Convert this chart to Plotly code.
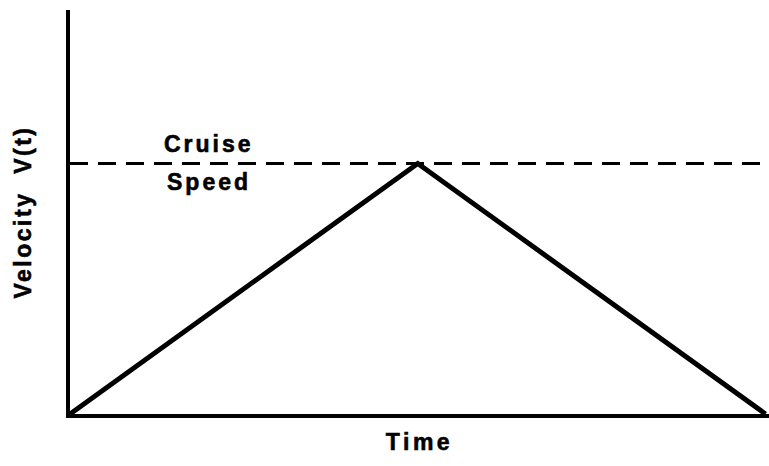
import plotly.graph_objects as go

# Data
time_pts = [0, 5, 10]
velocity = [0, 0.62, 0]
cruise_x = [0, 10.05]
cruise_v = [0.62, 0.62]
x_title = "Time"
y_title = "Velocity  V(t)"
cruise_label_top = "Cruise"
cruise_label_bottom = "Speed"

FONT = "Liberation Sans, Arial, sans-serif"

def spaced(s, px):
    return (f'<span style="letter-spacing:{px}px;stroke:black;stroke-width:0.6px">'
            f'<b>{s}</b></span>')

fig = go.Figure()
fig.add_trace(go.Scatter(x=cruise_x, y=cruise_v, mode="lines",
                         line=dict(color="black", width=3, dash="18px,10px"),
                         showlegend=False, hoverinfo="skip"))
fig.add_trace(go.Scatter(x=time_pts, y=velocity, mode="lines",
                         line=dict(color="black", width=5),
                         showlegend=False, hoverinfo="skip"))

fig.add_annotation(x=2.0, y=cruise_v[0], xref="x", yref="y",
                   text=spaced(cruise_label_top, 3), showarrow=False,
                   yshift=20, font=dict(family=FONT, size=23, color="black"))
fig.add_annotation(x=2.0, y=cruise_v[0], xref="x", yref="y",
                   text=spaced(cruise_label_bottom, 3), showarrow=False,
                   yshift=-18, font=dict(family=FONT, size=23, color="black"))

fig.update_layout(
    width=769, height=466,
    margin=dict(l=70, r=0, t=10, b=52),
    paper_bgcolor="white", plot_bgcolor="white",
    xaxis=dict(range=[0, 10.05], showgrid=False, zeroline=False,
               showticklabels=False, ticks="",
               showline=True, linecolor="black", linewidth=4,
               title=dict(text=spaced(x_title, 3.5), standoff=18,
                          font=dict(family=FONT, size=23, color="black"))),
    yaxis=dict(range=[0, 1], showgrid=False, zeroline=False,
               showticklabels=False, ticks="",
               showline=True, linecolor="black", linewidth=4,
               title=dict(text=spaced(y_title, 2.5), standoff=29,
                          font=dict(family=FONT, size=23, color="black"))),
)

fig.write_html("out.html",
               config={"displayModeBar": False},
               post_script="document.body.style.margin='0';document.body.style.overflow='hidden';")
